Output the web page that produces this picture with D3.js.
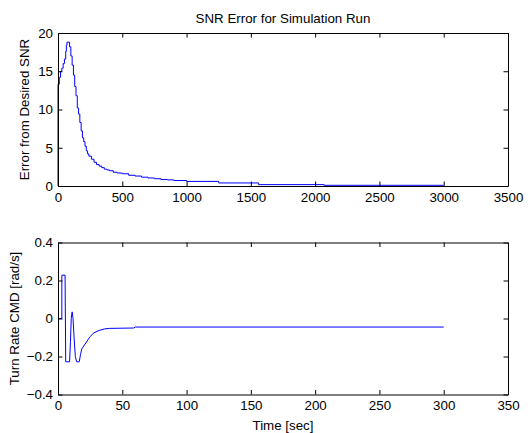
<!DOCTYPE html>
<html>
<head>
<meta charset="utf-8">
<script src="https://cdn.jsdelivr.net/npm/d3@7"></script>
<style>
  body { margin: 0; background: #fff; }
  svg text { font-family: Arial, "Liberation Sans", Helvetica, sans-serif; }
</style>
</head>
<body>
<div id="chart"></div>
<script>
let width = 532;
let height = 433;

// top panel: SNR error (stepped)
let snrTime = [0, 0, 10, 20, 30, 40, 50, 60, 65, 70, 85, 90, 100, 110, 120, 130, 140, 150, 160, 170,
  180, 190, 200, 210, 220, 230, 240, 260, 280, 300, 320, 340, 360, 380, 400, 430, 460, 500,
  550, 600, 650, 700, 750, 800, 850, 900, 1000, 1250, 1560, 2070, 3000];
let snrError = [0, 13.3, 14.2, 15.0, 15.4, 16.0, 16.6, 17.6, 18.4, 18.8, 18.8, 18.2, 17.0, 15.8, 14.5, 13.0,
  11.8, 10.2, 9.4, 8.3, 7.2, 6.3, 5.8, 5.2, 4.6, 4.2, 3.9, 3.5, 3.1, 2.8, 2.6, 2.4, 2.2, 2.1, 2.0,
  1.8, 1.7, 1.6, 1.4, 1.3, 1.15, 1.05, 0.95, 0.85, 0.8, 0.72, 0.6, 0.4, 0.18, 0.09, 0.09];

// bottom panel: turn rate command
let turnTime = [0, 3, 3, 5.5, 6, 9, 9.7, 10.3, 11, 11.7, 12.5, 13.5, 14.5, 16.5, 17.5, 18.5, 22, 25, 28,
  32, 36, 40, 59, 60, 300];
let turnRate = [0, 0, 0.228, 0.228, -0.228, -0.228, -0.12, 0.0, 0.035, 0.0, -0.1, -0.2, -0.228, -0.228,
  -0.19, -0.16, -0.125, -0.095, -0.075, -0.063, -0.055, -0.052, -0.05, -0.045, -0.045];

let snrXTicks = [0, 500, 1000, 1500, 2000, 2500, 3000, 3500];
let snrYTicks = [0, 5, 10, 15, 20];
let turnXTicks = [0, 50, 100, 150, 200, 250, 300, 350];
let turnYTicks = [-0.4, -0.2, 0, 0.2, 0.4];

let fontSize = 13.33;
let tickLen = 4.5;

let svg = d3.select("#chart").append("svg")
  .attr("width", width)
  .attr("height", height)
  .style("background-color", "white");

function drawPanel(opts) {
  let x = d3.scaleLinear().domain(opts.xDomain).range([58, 508]);
  let y = d3.scaleLinear().domain(opts.yDomain).range([opts.bottom, opts.top]);

  let g = svg.append("g");

  let data = opts.xs.map((d, i) => [d, opts.ys[i]]);
  let line = d3.line()
    .x(d => x(d[0]))
    .y(d => y(d[1]))
    .curve(opts.curve);

  g.append("path")
    .datum(data)
    .attr("fill", "none")
    .attr("stroke", "#0000ff")
    .attr("stroke-width", 1)
    .attr("d", line);

  let xAxis = d3.axisBottom(x).tickValues(opts.xTicks).tickSizeInner(-tickLen).tickSizeOuter(0)
    .tickPadding(6.5).tickFormat(opts.xFormat);
  let yAxis = d3.axisLeft(y).tickValues(opts.yTicks).tickSizeInner(-tickLen).tickSizeOuter(0)
    .tickPadding(5).tickFormat(opts.yFormat);
  let xTop = d3.axisTop(x).tickValues(opts.xTicks).tickSizeInner(-tickLen).tickSizeOuter(0).tickFormat("");
  let yRight = d3.axisRight(y).tickValues(opts.yTicks).tickSizeInner(-tickLen).tickSizeOuter(0).tickFormat("");

  let groups = [
    g.append("g").attr("transform", "translate(0," + opts.bottom + ")").call(xAxis),
    g.append("g").attr("transform", "translate(58,0)").call(yAxis),
    g.append("g").attr("transform", "translate(0," + opts.top + ")").call(xTop),
    g.append("g").attr("transform", "translate(508,0)").call(yRight)
  ];
  groups.forEach(a => {
    a.selectAll("path, line").attr("stroke", "#000");
    a.selectAll("text").attr("fill", "#000").style("font-size", fontSize + "px")
      .style("font-family", "Arial, 'Liberation Sans', Helvetica, sans-serif");
  });

  g.append("text")
    .attr("transform", "translate(" + opts.yLabelX + "," + ((opts.top + opts.bottom) / 2) + ") rotate(-90)")
    .attr("text-anchor", "middle")
    .style("font-size", fontSize + "px")
    .text(opts.yLabel);

  return g;
}

drawPanel({
  xs: snrTime, ys: snrError,
  xDomain: [0, 3500], yDomain: [0, 20],
  top: 33, bottom: 186,
  xTicks: snrXTicks, yTicks: snrYTicks,
  xFormat: d3.format("d"), yFormat: d3.format("d"),
  curve: d3.curveStepAfter,
  yLabel: "Error from Desired SNR", yLabelX: 29
});

drawPanel({
  xs: turnTime, ys: turnRate,
  xDomain: [0, 350], yDomain: [-0.4, 0.4],
  top: 242.5, bottom: 394.5,
  xTicks: turnXTicks, yTicks: turnYTicks,
  xFormat: d3.format("d"), yFormat: d => d === 0 ? "0" : d3.format(".1f")(d),
  curve: d3.curveLinear,
  yLabel: "Turn Rate CMD [rad/s]", yLabelX: 19
});

svg.append("text")
  .attr("x", 283)
  .attr("y", 22.5)
  .attr("text-anchor", "middle")
  .style("font-size", fontSize + "px")
  .text("SNR Error for Simulation Run");

svg.append("text")
  .attr("x", 283)
  .attr("y", 429.5)
  .attr("text-anchor", "middle")
  .style("font-size", fontSize + "px")
  .text("Time [sec]");
</script>
</body>
</html>
